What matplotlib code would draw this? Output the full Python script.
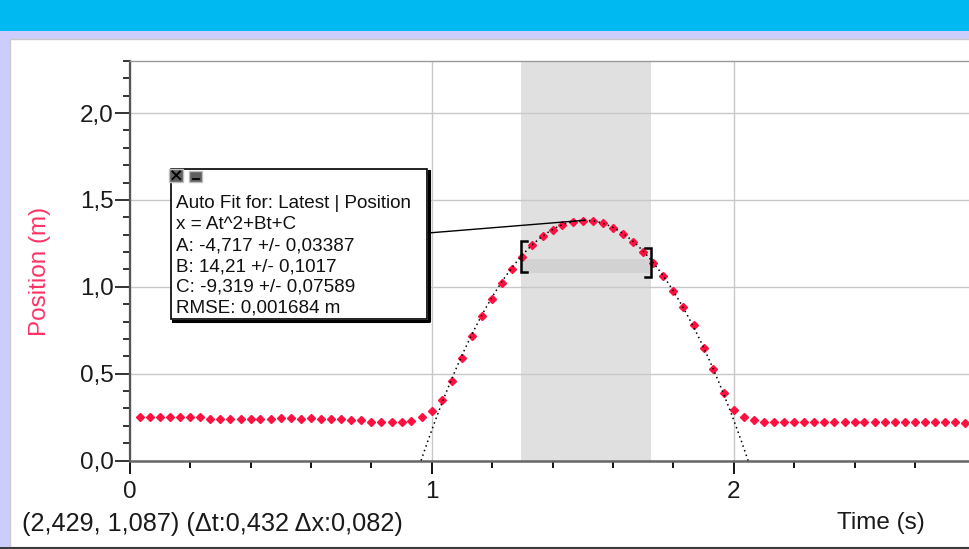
#!/usr/bin/env python3
"""Logger Pro style screen: position vs time with a quadratic auto fit."""
import matplotlib

matplotlib.use("Agg")
import matplotlib.pyplot as plt
import numpy as np
from matplotlib.patches import ConnectionPatch, Rectangle
from matplotlib.ticker import FuncFormatter, MultipleLocator

plt.rcParams["font.family"] = ["Liberation Sans", "DejaVu Sans"]

# samples at 30 Hz (s)
time = [
    0.033, 0.067, 0.100, 0.133, 0.167, 0.200, 0.233, 0.267, 0.300, 0.333,
    0.367, 0.400, 0.433, 0.467, 0.500, 0.533, 0.567, 0.600, 0.633, 0.667,
    0.700, 0.733, 0.767, 0.800, 0.833, 0.867, 0.900, 0.933, 0.967, 1.000,
    1.033, 1.067, 1.100, 1.133, 1.167, 1.200, 1.233, 1.267, 1.300, 1.333,
    1.367, 1.400, 1.433, 1.467, 1.500, 1.533, 1.567, 1.600, 1.633, 1.667,
    1.700, 1.733, 1.767, 1.800, 1.833, 1.867, 1.900, 1.933, 1.967, 2.000,
    2.033, 2.067, 2.100, 2.133, 2.167, 2.200, 2.233, 2.267, 2.300, 2.333,
    2.367, 2.400, 2.433, 2.467, 2.500, 2.533, 2.567, 2.600, 2.633, 2.667,
    2.700, 2.733, 2.767,
]
# position (m)
position = [
    0.249, 0.250, 0.249, 0.249, 0.248, 0.249, 0.248, 0.239, 0.239, 0.239,
    0.239, 0.239, 0.239, 0.239, 0.242, 0.242, 0.239, 0.247, 0.239, 0.239,
    0.239, 0.231, 0.231, 0.223, 0.223, 0.223, 0.223, 0.230, 0.248, 0.287,
    0.350, 0.460, 0.590, 0.715, 0.830, 0.932, 1.020, 1.103, 1.172, 1.241,
    1.295, 1.329, 1.354, 1.373, 1.379, 1.377, 1.365, 1.337, 1.304, 1.258,
    1.202, 1.137, 1.060, 0.978, 0.884, 0.779, 0.648, 0.524, 0.390, 0.290,
    0.249, 0.233, 0.223, 0.223, 0.222, 0.223, 0.223, 0.223, 0.223, 0.224,
    0.223, 0.223, 0.223, 0.222, 0.223, 0.223, 0.223, 0.223, 0.222, 0.223,
    0.223, 0.222, 0.214,
]

# fit coefficients x = At^2 + Bt + C
fit_a, fit_b, fit_c = -4.717, 14.21, -9.319
fit_lines = [
    "Auto Fit for: Latest | Position",
    "x = At^2+Bt+C",
    "A: -4,717 +/- 0,03387",
    "B: 14,21 +/- 0,1017",
    "C: -9,319 +/- 0,07589",
    "RMSE: 0,001684 m",
]
sel_start, sel_end = 1.295, 1.727
band_low, band_high = 1.078, 1.160
status = "(2,429, 1,087) (\u0394t:0,432 \u0394x:0,082)"

W, H = 969, 549
fig = plt.figure(figsize=(W / 100, H / 100), dpi=100)

# window chrome, drawn in pixel coordinates
bg = fig.add_axes([0, 0, 1, 1], zorder=-5)
bg.set_xlim(0, W)
bg.set_ylim(H, 0)
bg.axis("off")
bg.add_patch(Rectangle((0, 0), W, 31, color="#00b9f1", lw=0))
bg.add_patch(Rectangle((0, 31), W, 8, color="#ccccff", lw=0))
bg.add_patch(Rectangle((0, 31), 10, H, color="#ccccff", lw=0))
bg.add_patch(Rectangle((10, 39), W, 508, facecolor="white", edgecolor="#c8c8c8", lw=1))
bg.add_patch(Rectangle((0, 546.5), W, 3, color="#3a3a3a", lw=0))

ax = fig.add_axes([129.7 / W, 1 - 460.5 / H, 1 - 129.7 / W, (460.5 - 61) / H])
ax.set_facecolor("none")
ax.set_xlim(0, (W - 129.7) / 302)
ax.set_ylim(0, 2.3)

ax.axvspan(sel_start, sel_end, color="#e0e0e0", lw=0, zorder=0.1)
ax.fill_between([sel_start, sel_end], band_low, band_high, color="#d2d2d2", lw=0, zorder=0.3)
ax.set_axisbelow(True)
ax.grid(True, which="major", color="#c8c8c8", lw=1.0)

ax.plot(time, position, ls="none", marker="D", ms=4.5, color="#ff1040", mec="#ff1040", zorder=3)

disc = fit_b ** 2 - 4 * fit_a * fit_c
roots = sorted([(-fit_b + s * np.sqrt(disc)) / (2 * fit_a) for s in (1, -1)])
tt = np.linspace(roots[0], roots[1], 400)
ax.plot(tt, fit_a * tt ** 2 + fit_b * tt + fit_c, color="black", lw=1.1,
        ls=(0, (1, 2.2)), zorder=4)

# fit range brackets
bw = 0.022
ax.plot([sel_start + bw, sel_start, sel_start, sel_start + bw], [1.263, 1.263, 1.083, 1.083],
        color="black", lw=1.8, zorder=5, solid_joinstyle="miter")
ax.plot([sel_end - bw, sel_end, sel_end, sel_end - bw], [1.224, 1.224, 1.054, 1.054],
        color="black", lw=1.8, zorder=5, solid_joinstyle="miter")

ax.xaxis.set_major_locator(MultipleLocator(1))
ax.xaxis.set_minor_locator(MultipleLocator(0.2))
ax.yaxis.set_major_locator(MultipleLocator(0.5))
ax.yaxis.set_minor_locator(MultipleLocator(0.1))
ax.xaxis.set_major_formatter(FuncFormatter(lambda v, p: f"{v:.0f}"))
ax.yaxis.set_major_formatter(FuncFormatter(lambda v, p: f"{v:.1f}".replace(".", ",")))
ax.tick_params(axis="y", which="major", length=11, width=1.4, pad=0.5, labelsize=17.5,
               color="#333333", labelcolor="#1a1a1a")
ax.tick_params(axis="y", which="minor", length=5, width=1.4, color="#333333")
ax.tick_params(axis="x", which="major", length=9.5, width=1.4, pad=5, labelsize=17.5,
               color="#111111", labelcolor="#1a1a1a")
ax.tick_params(axis="x", which="minor", length=5, width=1.4, color="#111111")
ax.spines["right"].set_visible(False)
ax.spines["left"].set_color("#555555")
ax.spines["left"].set_linewidth(1.6)
ax.spines["bottom"].set_color("#666666")
ax.spines["bottom"].set_linewidth(1.8)
ax.spines["top"].set_color("#9a9a9a")
ax.spines["top"].set_linewidth(1.0)

# overlay for labels and the fit box, pixel coordinates
ov = fig.add_axes([0, 0, 1, 1], zorder=10)
ov.set_xlim(0, W)
ov.set_ylim(H, 0)
ov.axis("off")
ov.patch.set_alpha(0)

ov.text(40, 271, "Position (m)", rotation=90, ha="center", va="center",
        fontsize=17.5, color="#ff3366")
ov.text(925, 523, "Time (s)", ha="right", va="center", fontsize=17.5, color="#1a1a1a")
ov.text(22, 524, status, ha="left", va="center", fontsize=18.2, color="#1a1a1a")

# fit info box with shadow
ov.plot([173, 429, 429], [320.5, 320.5, 171], color="black", lw=2.2, zorder=1)
ov.add_patch(Rectangle((171, 169), 256, 150, facecolor="white", edgecolor="black", lw=1.2, zorder=2))
for i, line in enumerate(fit_lines):
    ov.text(176, 208.3 + i * 20.9, line, ha="left", va="baseline", fontsize=13.6,
            color="#111111", zorder=3)
# close / minimise buttons
ov.add_patch(Rectangle((169.5, 168.5), 13.5, 13, facecolor="#606060", edgecolor="#c0c0c0", lw=1, zorder=4))
ov.plot([172.5, 180], [171.5, 179], color="black", lw=1.4, zorder=5)
ov.plot([172.5, 180], [179, 171.5], color="black", lw=1.4, zorder=5)
ov.add_patch(Rectangle((189.5, 170.5), 13, 11, facecolor="#606060", edgecolor="#c0c0c0", lw=1, zorder=4))
ov.plot([193, 199], [178.5, 178.5], color="black", lw=1.3, zorder=5)

t_peak = -fit_b / (2 * fit_a)
y_peak = fit_a * t_peak ** 2 + fit_b * t_peak + fit_c
con = ConnectionPatch(xyA=(428, 233), coordsA=ov.transData, xyB=(t_peak, y_peak),
                      coordsB=ax.transData, color="black", lw=1.0, zorder=1)
fig.add_artist(con)

fig.savefig("out.png", dpi=100, facecolor="white")
plt.close(fig)
